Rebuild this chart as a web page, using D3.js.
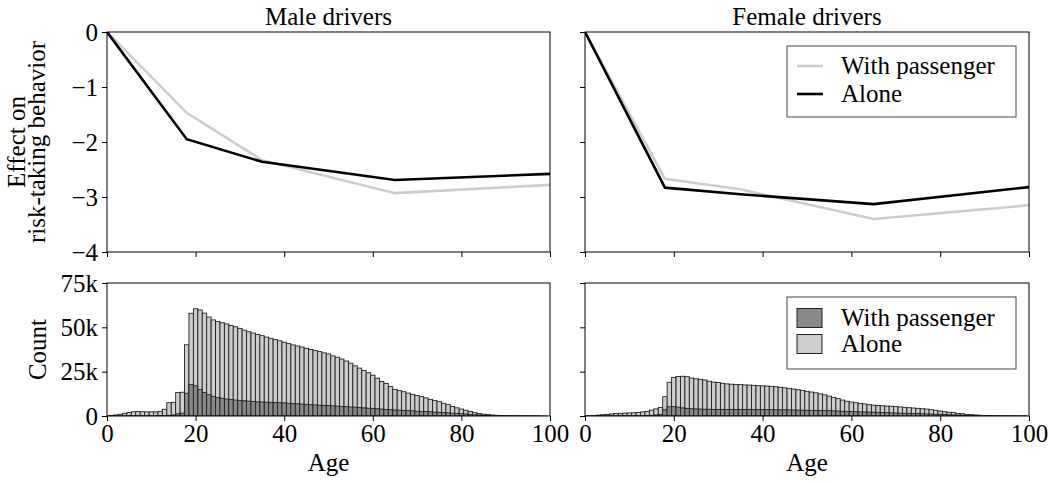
<!DOCTYPE html>
<html>
<head>
<meta charset="utf-8">
<script src="https://cdn.jsdelivr.net/npm/d3@7"></script>
<style>
html,body{margin:0;padding:0;background:#fff;}
svg{display:block;}
svg text{font-family:"Liberation Serif","Times New Roman",Times,"DejaVu Serif",serif;fill:#000;}
</style>
</head>
<body>
<svg id="chart" width="1052" height="482"></svg>
<script>
// ---------- data ----------
const panelTitles = ["Male drivers", "Female drivers"];
const seriesNames = ["With passenger", "Alone"];

const effectAges = [0, 18, 35, 65, 100];
const maleEffectWith = [0, -1.47, -2.33, -2.93, -2.78];
const maleEffectAlone = [0, -1.95, -2.36, -2.69, -2.58];
const femaleEffectWith = [0, -2.67, -2.86, -3.40, -3.15];
const femaleEffectAlone = [0, -2.83, -2.95, -3.13, -2.82];

const histAges = d3.range(0, 100);
// counts in thousands
const maleCountAlone = [0.1,0.3,0.6,1.0,1.5,2.0,2.4,2.5,2.4,2.3,2.3,2.3,2.6,3.8,7.5,7.7,13.2,13.4,40.2,57.9,
 60.5,59.8,58.0,55.8,54.2,53.3,52.6,51.9,51.0,50.3,49.4,48.4,47.5,46.8,46.0,45.3,44.5,43.8,43.1,42.4,
 41.6,40.8,40.1,39.5,38.9,38.2,37.5,36.9,36.3,35.6,35.0,33.9,33.1,32.1,31.0,29.8,28.3,27.0,25.7,24.4,
 23.0,21.3,19.5,18.3,16.6,15.0,14.3,13.7,12.9,12.2,11.5,10.9,10.2,9.4,8.7,8.1,7.2,6.4,5.4,4.6,
 3.9,3.2,2.5,1.9,1.4,1.0,0.75,0.55,0.4,0.3,0.22,0.15,0.1,0.08,0.06,0.04,0.03,0.02,0.02,0.01];
const maleCountWith = [0,0,0,0.05,0.1,0.1,0.1,0.1,0.1,0.1,0.1,0.1,0.15,0.2,0.3,0.6,1.2,1.6,12.8,17.7,
 17.0,15.0,13.3,12.0,11.1,10.5,10.0,9.6,9.3,9.0,8.8,8.6,8.4,8.2,8.0,7.9,7.8,7.7,7.6,7.5,
 7.4,7.2,7.0,6.9,6.7,6.6,6.4,6.3,6.1,6.0,5.9,5.7,5.6,5.4,5.3,5.1,5.0,4.8,4.6,4.4,
 4.3,4.1,3.9,3.7,3.6,3.4,3.3,3.1,3.0,2.9,2.7,2.6,2.5,2.4,2.2,2.1,1.9,1.8,1.6,1.5,
 1.3,1.1,0.9,0.7,0.55,0.45,0.35,0.25,0.18,0.12,0.08,0.05,0.04,0.03,0.02,0.01,0.01,0.01,0,0];
const femaleCountAlone = [0.1,0.2,0.3,0.5,0.7,0.9,1.2,1.4,1.5,1.6,1.7,1.8,2.0,2.3,2.6,3.3,4.0,4.8,
 10.9,19.0,21.7,22.3,22.4,22.2,21.4,21.0,20.7,20.3,19.6,19.1,18.9,18.4,18.1,17.9,
 17.8,17.7,17.5,17.4,17.3,17.1,17.0,16.9,16.7,16.5,16.2,15.9,15.6,15.2,14.8,14.4,13.9,13.5,13.1,12.5,11.9,11.2,10.5,9.8,9.0,8.3,7.9,7.5,7.1,6.8,6.4,6.1,5.9,5.8,5.6,
 5.5,5.3,5.1,4.9,4.7,4.5,4.3,4.1,3.9,3.6,3.2,2.8,2.4,2.1,1.9,1.5,1.3,0.9,0.75,0.55,0.4,0.3,0.2,0.15,0.1,0.07,0.05,0.03,0.02,0.01,0.01];
const femaleCountWith = [0,0,0,0.02,0.05,0.05,0.08,0.1,0.1,0.1,0.1,0.12,0.15,0.2,0.25,0.3,0.6,0.9,
 3.5,5.2,5.3,5.0,4.6,4.3,4.1,4.0,3.9,3.8,3.8,3.7,3.7,3.7,3.7,3.7,
 3.7,3.7,3.7,3.7,3.6,3.6,3.6,3.6,3.6,3.5,3.5,3.5,3.4,3.4,3.3,3.3,
 3.2,3.2,3.1,3.1,3.0,3.0,2.9,2.8,2.7,2.6,2.5,2.4,2.3,2.3,2.2,2.2,
 2.1,2.0,1.9,1.8,1.7,1.6,1.5,1.5,1.4,1.4,1.3,1.2,1.1,1.0,0.9,0.8,
 0.7,0.6,0.5,0.45,0.4,0.3,0.25,0.2,0.15,0.1,0.08,0.05,0.04,0.03,0.02,0.01,0.01,0.01];

const xTicks = [0, 20, 40, 60, 80, 100];
const effectTicks = [0, -1, -2, -3, -4];
const countTicks = [0, 25, 50, 75];

// ---------- layout ----------
const svg = d3.select("#chart");
const panelsX = [[107, 550], [585, 1029]];
const topY = [32, 252];
const botY = [283, 416];
const colors = {withLine: "#cccccc", aloneLine: "#000000", withBar: "#888888", aloneBar: "#cccccc"};
const FS = 25;

const effectData = [
  {with: maleEffectWith, alone: maleEffectAlone},
  {with: femaleEffectWith, alone: femaleEffectAlone}
];
const countData = [
  {with: maleCountWith, alone: maleCountAlone},
  {with: femaleCountWith, alone: femaleCountAlone}
];

const minusFmt = d => d === 0 ? "0" : (d < 0 ? "\u2212" + Math.abs(d) : String(d));
const kFmt = d => d === 0 ? "0" : d + "k";

panelsX.forEach((px, i) => {
  const x = d3.scaleLinear().domain([0, 100]).range(px);
  const yT = d3.scaleLinear().domain([-4, 0]).range([topY[1], topY[0]]);
  const yB = d3.scaleLinear().domain([0, 75]).range([botY[1], botY[0]]);

  const cidT = "clipT" + i, cidB = "clipB" + i;
  svg.append("clipPath").attr("id", cidT).append("rect")
    .attr("x", px[0]).attr("y", topY[0]).attr("width", px[1] - px[0]).attr("height", topY[1] - topY[0]);
  svg.append("clipPath").attr("id", cidB).append("rect")
    .attr("x", px[0]).attr("y", botY[0]).attr("width", px[1] - px[0]).attr("height", botY[1] - botY[0]);

  // top panel: effect lines
  const gT = svg.append("g").attr("clip-path", `url(#${cidT})`);
  const line = d3.line().x((d, j) => x(effectAges[j])).y(d => yT(d));
  gT.append("path").datum(effectData[i].with).attr("d", line)
    .attr("fill", "none").attr("stroke", colors.withLine).attr("stroke-width", 2.6);
  gT.append("path").datum(effectData[i].alone).attr("d", line)
    .attr("fill", "none").attr("stroke", colors.aloneLine).attr("stroke-width", 2.6);

  // bottom panel: histograms
  const gB = svg.append("g").attr("clip-path", `url(#${cidB})`);
  const bw = x(1) - x(0);
  gB.selectAll("rect.alone").data(histAges).join("rect").attr("class", "alone")
    .attr("x", a => x(a - 0.5)).attr("width", bw)
    .attr("y", a => yB(countData[i].alone[a])).attr("height", a => yB(0) - yB(countData[i].alone[a]))
    .attr("fill", colors.aloneBar).attr("stroke", "#222").attr("stroke-width", 0.9);
  gB.selectAll("rect.with").data(histAges).join("rect").attr("class", "with")
    .attr("x", a => x(a - 0.5)).attr("width", bw)
    .attr("y", a => yB(countData[i].with[a])).attr("height", a => yB(0) - yB(countData[i].with[a]))
    .attr("fill", colors.withBar).attr("stroke", "#222").attr("stroke-width", 0.9);

  const styleAxis = g => {
    g.select(".domain").remove();
    g.attr("font-family", null).attr("font-size", null);
    g.selectAll(".tick line").attr("stroke", "#000").attr("stroke-width", 1);
    g.selectAll(".tick text").attr("font-size", FS).attr("fill", "#000");
  };
  svg.append("g").attr("transform", `translate(0,${topY[1]})`)
    .call(d3.axisBottom(x).tickValues(xTicks).tickSize(5).tickFormat(""))
    .call(styleAxis);
  svg.append("g").attr("transform", `translate(0,${botY[1]})`)
    .call(d3.axisBottom(x).tickValues(xTicks).tickSize(5).tickPadding(3).tickFormat(d => String(d)))
    .call(styleAxis);
  svg.append("g").attr("transform", `translate(${px[0]},0)`)
    .call(d3.axisLeft(yT).tickValues(effectTicks).tickSize(5).tickPadding(4).tickFormat(i === 0 ? minusFmt : ""))
    .call(styleAxis);
  svg.append("g").attr("transform", `translate(${px[0]},0)`)
    .call(d3.axisLeft(yB).tickValues(countTicks).tickSize(5).tickPadding(4).tickFormat(i === 0 ? kFmt : ""))
    .call(styleAxis);

  [topY, botY].forEach(yy => {
    svg.append("rect").attr("x", px[0]).attr("y", yy[0]).attr("width", px[1] - px[0]).attr("height", yy[1] - yy[0])
      .attr("fill", "none").attr("stroke", "#000").attr("stroke-width", 1);
  });

  svg.append("text").attr("x", (px[0] + px[1]) / 2).attr("y", 25).attr("text-anchor", "middle")
    .attr("font-size", FS).text(panelTitles[i]);
  svg.append("text").attr("x", (px[0] + px[1]) / 2).attr("y", 471).attr("text-anchor", "middle")
    .attr("font-size", FS).text("Age");
});

const yl = svg.append("text").attr("transform", `translate(0,${(topY[0] + topY[1]) / 2}) rotate(-90)`)
  .attr("text-anchor", "middle").attr("font-size", FS);
yl.append("tspan").attr("x", 0).attr("y", 25).text("Effect on");
yl.append("tspan").attr("x", 0).attr("y", 45).text("risk-taking behavior");
svg.append("text").attr("transform", `translate(46,${(botY[0] + botY[1]) / 2}) rotate(-90)`)
  .attr("text-anchor", "middle").attr("font-size", FS).text("Count");

function legend(box, rows) {
  svg.append("rect").attr("x", box[0]).attr("y", box[1]).attr("width", box[2] - box[0]).attr("height", box[3] - box[1])
    .attr("fill", "#fff").attr("stroke", "#444").attr("stroke-width", 1);
  rows.forEach(r => {
    if (r.type === "line") {
      svg.append("line").attr("x1", 797).attr("x2", 823).attr("y1", r.cy).attr("y2", r.cy)
        .attr("stroke", r.color).attr("stroke-width", 2.6);
    } else {
      svg.append("rect").attr("x", 797).attr("y", r.cy - 9.5).attr("width", 25).attr("height", 19)
        .attr("fill", r.color).attr("stroke", "#222").attr("stroke-width", 1);
    }
    svg.append("text").attr("x", 841).attr("y", r.cy + 8).attr("font-size", FS).text(r.label);
  });
}
legend([787, 46, 1016, 117], [
  {type: "line", color: colors.withLine, cy: 66, label: seriesNames[0]},
  {type: "line", color: colors.aloneLine, cy: 94, label: seriesNames[1]}
]);
legend([787, 297, 1016, 369], [
  {type: "rect", color: colors.withBar, cy: 318, label: seriesNames[0]},
  {type: "rect", color: colors.aloneBar, cy: 344, label: seriesNames[1]}
]);
</script>
</body>
</html>
